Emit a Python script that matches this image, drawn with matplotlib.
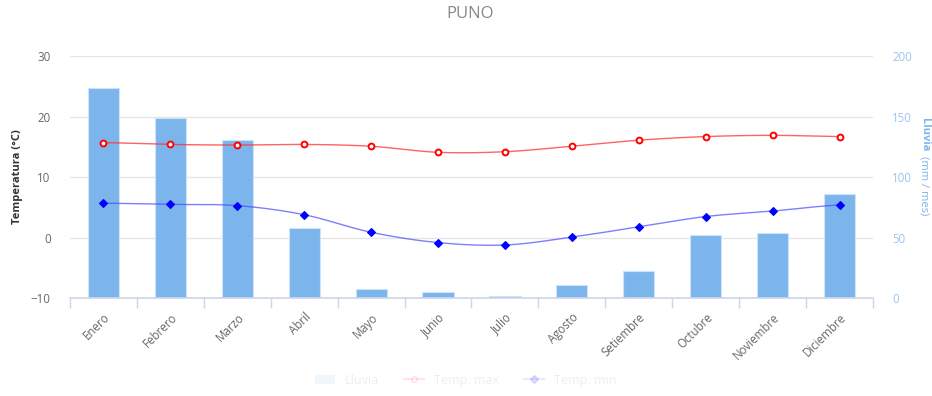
import numpy as np
import matplotlib.pyplot as plt
from matplotlib.lines import Line2D
from matplotlib.patches import Patch

plt.rcParams['font.family'] = ['Open Sans', 'DejaVu Sans']

months = ["Enero", "Febrero", "Marzo", "Abril", "Mayo", "Junio", "Julio",
          "Agosto", "Setiembre", "Octubre", "Noviembre", "Diciembre"]
lluvia = [173.3, 148.6, 130.4, 58.3, 7.7, 5.2, 1.7, 11.2, 22.5, 52.2, 53.9, 86.1]
temp_max = [15.7, 15.4, 15.3, 15.4, 15.1, 14.1, 14.2, 15.1, 16.1, 16.7, 16.9, 16.7]
temp_min = [5.7, 5.5, 5.3, 3.8, 0.9, -0.8, -1.2, 0.1, 1.8, 3.5, 4.4, 5.4]

temp_ticks = [-10, 0, 10, 20, 30]
rain_ticks = [0, 50, 100, 150, 200]

BAR = "#7cb5ec"
GRID = "#e6e6e6"
AXIS = "#ccd6eb"
LABEL = "#666666"


def spline(y, steps=24):
    """Cubic Hermite curve through the points, for a soft spline look."""
    y = np.asarray(y, dtype=float)
    n = len(y)
    m = np.zeros(n)
    m[1:-1] = (y[2:] - y[:-2]) / 2.0
    m[0] = (y[1] - y[0]) * 0.5
    m[-1] = (y[-1] - y[-2]) * 0.5
    xs, ys = [], []
    t = np.linspace(0, 1, steps, endpoint=False)
    h00 = 2 * t**3 - 3 * t**2 + 1
    h10 = t**3 - 2 * t**2 + t
    h01 = -2 * t**3 + 3 * t**2
    h11 = t**3 - t**2
    for i in range(n - 1):
        xs.append(i + t)
        ys.append(h00 * y[i] + h10 * m[i] + h01 * y[i + 1] + h11 * m[i + 1])
    xs.append([n - 1])
    ys.append([y[-1]])
    return np.concatenate(xs), np.concatenate(ys)


fig = plt.figure(figsize=(9.32, 3.96), dpi=100)
ax = fig.add_axes([0.0751, 0.2467, 0.8616, 0.6119])
ax_t = ax.twinx()
x = np.arange(len(months))

# rain bars on the base axes, ticks on the right
ax.bar(x, lluvia, width=0.465, color=BAR, edgecolor="#cfe3f7", linewidth=0.8, zorder=2)
ax.set_ylim(0, 200)
ax.set_yticks(rain_ticks)
ax.yaxis.tick_right()
ax.tick_params(axis="y", length=0, pad=14, labelsize=8.3, labelcolor="#9cc4ee")
ax.grid(axis="y", color=GRID, linewidth=1.0)
ax.set_axisbelow(True)
ax.set_xlim(-0.5, 11.5)
ax.set_xticks(x)
ax.set_xticklabels(months, rotation=45, ha="right", rotation_mode="anchor",
                   fontsize=8.3, color=LABEL)
ax.tick_params(axis="x", length=0, pad=9)
ax.set_xticks(np.arange(-0.5, 12, 1), minor=True)
ax.tick_params(axis="x", which="minor", length=7, color=AXIS, width=1)
for side in ["top", "left", "right"]:
    ax.spines[side].set_visible(False)
ax.spines["bottom"].set_color(AXIS)
ax.spines["bottom"].set_linewidth(1.2)

# temperatures on the twin axes, ticks on the left
ax_t.set_ylim(-10, 30)
ax_t.set_yticks(temp_ticks)
ax_t.yaxis.tick_left()
ax_t.tick_params(axis="y", length=0, pad=14, labelsize=8.3, labelcolor=LABEL)
for side in ["top", "left", "right", "bottom"]:
    ax_t.spines[side].set_visible(False)

sx, sy = spline(temp_max)
ax_t.plot(sx, sy, color="#ff3030", lw=1.0, alpha=0.75, zorder=3)
ax_t.plot(x, temp_max, ls="none", marker="o", ms=4.2, mfc="white", mec="#ff0000",
          mew=1.4, zorder=4)
sx, sy = spline(temp_min)
ax_t.plot(sx, sy, color="#4848ff", lw=1.0, alpha=0.7, zorder=3)
ax_t.plot(x, temp_min, ls="none", marker="D", ms=4.0, mfc="#0000ff", mec="#0000ff",
          mew=0.8, zorder=4)

# axis titles
fig.text(0.019, 0.553, "Temperatura (°C)", rotation=90, ha="center", va="center",
         fontsize=8, color="#333333", fontweight="bold")
fig.text(0.9915, 0.703, "Lluvia", rotation=270, ha="center", va="top",
         fontsize=8, color=BAR, fontweight="bold")
fig.text(0.9915, 0.606, "(mm / mes)", rotation=270, ha="center", va="top",
         fontsize=8, color=BAR)

fig.suptitle("PUNO", x=0.504, y=0.985, fontsize=12, color="#888888")

# faded legend along the bottom edge
handles = [
    Patch(facecolor=BAR, edgecolor="none"),
    Line2D([], [], color="#ff3030", marker="o", ms=4, mfc="white", mec="#ff0000"),
    Line2D([], [], color="#4848ff", marker="D", ms=4, mfc="#0000ff", mec="#0000ff"),
]
leg = fig.legend(handles, ["Lluvia", "Temp. max", "Temp. min"], loc="lower center",
                 bbox_to_anchor=(0.5, -0.005), ncol=3, frameon=False, fontsize=9,
                 handlelength=1.6, columnspacing=2.0)
for h in leg.legend_handles:
    h.set_alpha(0.12)
for t in leg.get_texts():
    t.set_color("#eceef3")

fig.savefig("out.png", dpi=100)
